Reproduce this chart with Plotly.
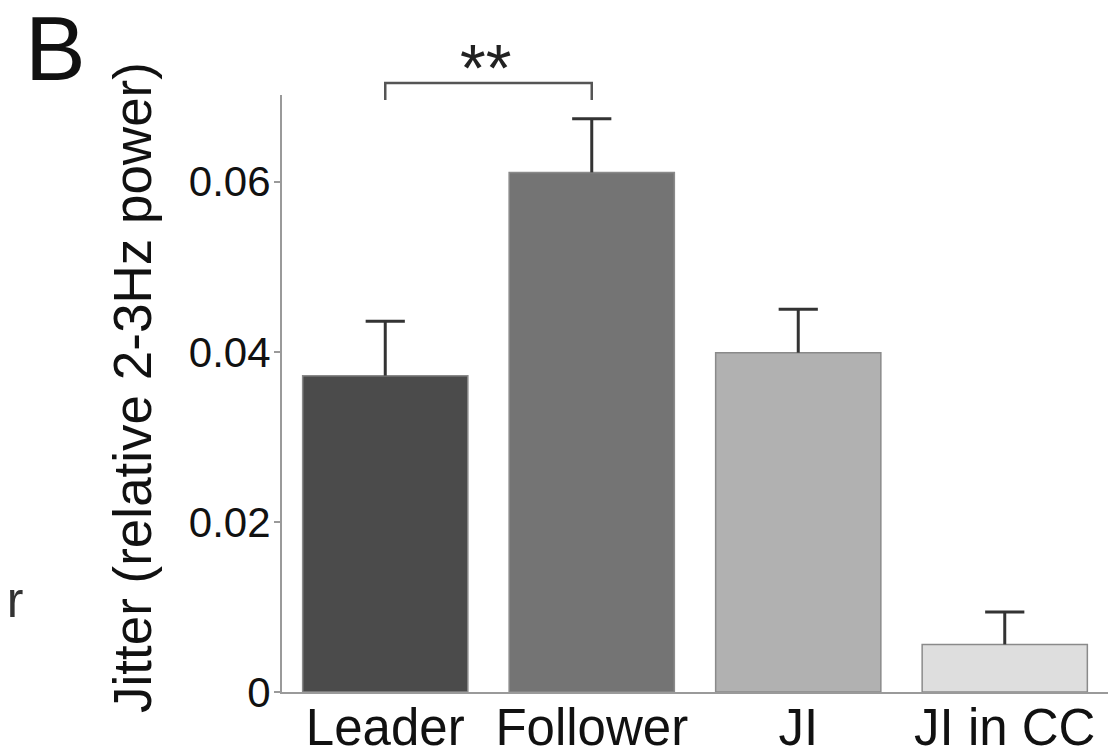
import plotly.graph_objects as go

categories = ["Leader", "Follower", "JI", "JI in CC"]
means = [0.0372, 0.0611, 0.0399, 0.0056]
errors = [0.0064, 0.0063, 0.0051, 0.0038]
bar_colors = ["#4b4b4b", "#747474", "#b1b1b1", "#dedede"]
y_ticks = [0, 0.02, 0.04, 0.06]
y_tick_labels = ["0", "0.02", "0.04", "0.06"]
sig_pair = (0, 1)
sig_label = "**"

# the page body adds an 8px offset, so the figure is drawn 8px smaller
OFF = 8
W, H = 1117 - OFF, 756 - OFF
# plot area in page pixels
PL, PR, PT, PB = 282, 1108, 95, 692
L, R, T, B = PL - OFF, W - (PR - OFF), PT - OFF, H - (PB - OFF)
pw, ph = PR - PL, PB - PT

def px_x(p):
    return (p - PL) / pw

def px_y(p):
    return (PB - p) / ph

FONT = "Arial, Liberation Sans, Helvetica, sans-serif"

fig = go.Figure()
fig.add_trace(go.Bar(
    x=categories, y=means,
    marker=dict(color=bar_colors, line=dict(color="#8a8a8a", width=1.5)),
    error_y=dict(type="data", symmetric=False, array=errors,
                 arrayminus=[0] * len(errors), width=0, thickness=3, color="#333333"),
    showlegend=False, hoverinfo="x+y",
))
fig.add_trace(go.Scatter(
    x=categories, y=[m + e for m, e in zip(means, errors)],
    mode="markers",
    marker=dict(symbol="line-ew", size=28, line=dict(width=3, color="#333333")),
    showlegend=False, hoverinfo="skip", cliponaxis=False,
))

n = len(categories)
xa = (sig_pair[0] + 0.5) / n
xb = (sig_pair[1] + 0.5) / n
yb_top = px_y(83)
yb_bot = px_y(100)
fig.add_shape(type="path", xref="paper", yref="paper",
              path=f"M {xa} {yb_bot} L {xa} {yb_top} L {xb} {yb_top} L {xb} {yb_bot}",
              line=dict(color="#555555", width=2.5))
fig.add_annotation(x=(xa + xb) / 2 - 0.004, y=px_y(68), xref="paper", yref="paper",
                   xanchor="center", yanchor="middle",
                   text=sig_label, showarrow=False,
                   font=dict(family=FONT, size=66, color="#222222"))

fig.add_annotation(x=px_x(55), y=px_y(49), xref="paper", yref="paper",
                   xanchor="center", yanchor="middle",
                   text="B", showarrow=False,
                   font=dict(family=FONT, size=91, color="#111111"))
fig.add_annotation(x=px_x(132), y=px_y(388), xref="paper", yref="paper",
                   xanchor="center", yanchor="middle",
                   text="Jitter (relative 2-3Hz power)", textangle=-90, showarrow=False,
                   font=dict(family=FONT, size=53, color="#111111"))
fig.add_annotation(x=px_x(25), y=px_y(600), xref="paper", yref="paper",
                   xanchor="right", yanchor="middle", text="er", showarrow=False,
                   font=dict(family=FONT, size=50, color="#333333"))

fig.update_layout(
    width=W, height=H,
    margin=dict(l=L, r=R, t=T, b=B, pad=0, autoexpand=False),
    paper_bgcolor="white", plot_bgcolor="white",
    bargap=0.2,
    font=dict(family=FONT, color="#111111"),
    xaxis=dict(type="category", range=[-0.5, n - 0.5], showline=True,
               linecolor="#9a9a9a", linewidth=2, ticks="", showgrid=False,
               zeroline=False, tickfont=dict(size=51, color="#111111"),
               ticklabelstandoff=-10,
               fixedrange=True, automargin=False),
    yaxis=dict(range=[0, 0.0702], showline=True, linecolor="#9a9a9a", linewidth=2,
               ticks="outside", ticklen=6, tickcolor="#9a9a9a", tickwidth=1.5,
               tickvals=y_ticks, ticktext=y_tick_labels, showgrid=False,
               zeroline=False, tickfont=dict(size=42, color="#111111"),
               ticklabelstandoff=-5,
               fixedrange=True, automargin=False),
)

fig.write_html("out.html")
